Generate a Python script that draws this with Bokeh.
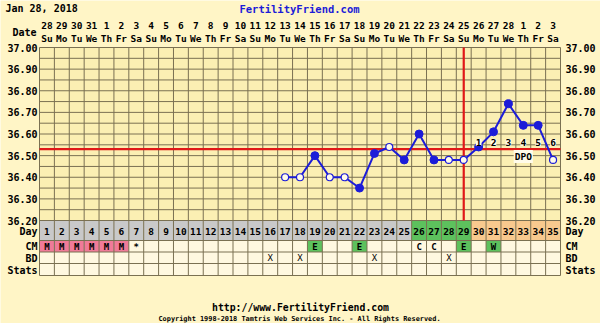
from bokeh.plotting import figure
from bokeh.models import Range1d
from bokeh.core.properties import value
from bokeh.embed import file_html
from bokeh.resources import INLINE

# ---------------- data ----------------
cycle_days = list(range(1, 36))
date_labels = ["28", "29", "30", "31", "1", "2", "3", "4", "5", "6", "7", "8", "9", "10",
               "11", "12", "13", "14", "15", "16", "17", "18", "19", "20", "21", "22", "23",
               "24", "25", "26", "27", "28", "1", "2", "3"]
weekday_labels = ["Su", "Mo", "Tu", "We", "Th", "Fr", "Sa",
                  "Su", "Mo", "Tu", "We", "Th", "Fr", "Sa",
                  "Su", "Mo", "Tu", "We", "Th", "Fr", "Sa",
                  "Su", "Mo", "Tu", "We", "Th", "Fr", "Sa",
                  "Su", "Mo", "Tu", "We", "Th", "Fr", "Sa"]

temp_days = [17, 18, 19, 20, 21, 22, 23, 24, 25, 26, 27, 28, 29, 30, 31, 32, 33, 34, 35]
temps = [36.40, 36.40, 36.50, 36.40, 36.40, 36.35, 36.51, 36.54, 36.48, 36.60,
         36.48, 36.48, 36.48, 36.54, 36.61, 36.74, 36.64, 36.64, 36.48]
temp_open = [True, True, False, True, True, False, False, True, False, False,
             False, True, True, False, False, False, False, False, True]

coverline_temp = 36.53
ovulation_day = 29
dpo_days = [30, 31, 32, 33, 34, 35]
dpo_labels = ["1", "2", "3", "4", "5", "6"]

pre_days = list(range(1, 26))
fertile_days = [26, 27, 28, 29]
post_days = [30, 31, 32, 33, 34, 35]

cm_days = [1, 2, 3, 4, 5, 6, 7, 19, 22, 26, 27, 29, 31]
cm_codes = ["M", "M", "M", "M", "M", "M", "*", "E", "E", "C", "C", "E", "W"]
bd_days = [16, 18, 23, 28]

temp_ticks = [36.20, 36.30, 36.40, 36.50, 36.60, 36.70, 36.80, 36.90, 37.00]
temp_tick_labels = ["36.20", "36.30", "36.40", "36.50", "36.60", "36.70", "36.80", "36.90", "37.00"]
row_names = ["Day", "CM", "BD", "Stats"]

# ---------------- layout helpers (pixel -> data) ----------------
W, H = 600, 323
GX0, GX1 = 39.0, 560.0
COLW = (GX1 - GX0) / 35.0
TOP_PX, BOT_PX = 47.0, 220.0
PXPERDEG = (BOT_PX - TOP_PX) / 0.8


def ty(px):
    return 37.0 - (px - TOP_PX) / PXPERDEG


def dx(px):
    return 0.5 + (px - GX0) / COLW


FONT = value("DejaVu Sans Mono")
BG = "#FFF5C6"
GRIDBG = "#FBEFB3"
CREAM = "#FFF8E0"
LINEC = "#7A7052"
BLUE = "#1C1CD8"
RED = "#E01818"

p = figure(width=W, height=H, output_backend="svg", toolbar_location=None,
           x_range=Range1d(dx(0), dx(W)), y_range=Range1d(ty(H), ty(0)),
           min_border=0, background_fill_color=BG, border_fill_color=BG,
           outline_line_color=None)
p.axis.visible = False
p.grid.visible = False

# row boundaries (pixels)
day_top, day_bot = ty(220), ty(240)
cm_top, cm_bot = ty(240), ty(251.5)
bd_top, bd_bot = ty(251.5), ty(263)
st_top, st_bot = ty(263), ty(275)

# temperature grid background
p.quad(left=[0.5], right=[35.5], bottom=[36.2], top=[37.0], fill_color=GRIDBG, line_color=None)
# cream rows
p.quad(left=[0.5], right=[35.5], bottom=[st_bot], top=[cm_top], fill_color=CREAM, line_color=None)

# day row cells
day_colors = {}
for d in pre_days:
    day_colors[d] = "#C9C9C9"
for d in fertile_days:
    day_colors[d] = "#5DC15D"
for d in post_days:
    day_colors[d] = "#F8C98E"
p.quad(left=[d - 0.5 for d in cycle_days], right=[d + 0.5 for d in cycle_days],
       bottom=day_bot, top=day_top, fill_color=[day_colors[d] for d in cycle_days], line_color=None)

# CM coloured cells
cm_color_map = {"M": "#F07A98", "E": "#5DC15D", "W": "#5DC15D"}
cm_fill_days = [d for d, c in zip(cm_days, cm_codes) if c in cm_color_map]
cm_fill_cols = [cm_color_map[c] for c in cm_codes if c in cm_color_map]
p.quad(left=[d - 0.5 for d in cm_fill_days], right=[d + 0.5 for d in cm_fill_days],
       bottom=cm_bot, top=cm_top, fill_color=cm_fill_cols, line_color=None)

# grid lines
hlines = [36.20 + 0.05 * i for i in range(17)] + [day_bot, cm_bot, bd_bot, st_bot]
p.segment(x0=[0.5] * len(hlines), x1=[35.5] * len(hlines), y0=hlines, y1=hlines,
          line_color=LINEC, line_width=1)
vlines = [0.5 + i for i in range(36)]
p.segment(x0=vlines, x1=vlines, y0=[st_bot] * len(vlines), y1=[37.0] * len(vlines),
          line_color=LINEC, line_width=1)

# coverline and ovulation line
p.segment(x0=[0.5], x1=[35.5], y0=[coverline_temp], y1=[coverline_temp], line_color=RED, line_width=2.2)
p.segment(x0=[ovulation_day], x1=[ovulation_day], y0=[36.2], y1=[37.0], line_color=RED, line_width=2.2)

# temperature line
p.line(temp_days, temps, line_color=BLUE, line_width=2)
fd = [d for d, o in zip(temp_days, temp_open) if not o]
ft = [t for t, o in zip(temps, temp_open) if not o]
od = [d for d, o in zip(temp_days, temp_open) if o]
ot = [t for t, o in zip(temps, temp_open) if o]
p.scatter(fd, ft, size=8, fill_color=BLUE, line_color=BLUE)
p.scatter(od, ot, size=7, fill_color="#FFFBEA", line_color=BLUE, line_width=1.2)

# DPO labels
p.text(x=dpo_days, y=[ty(142)] * len(dpo_days), text=dpo_labels, text_font=FONT,
       text_font_style="bold", text_font_size="9.5px", text_align="center", text_baseline="middle",
       text_color="black", background_fill_color="#FFFBEA", padding=0)
p.text(x=[33], y=[ty(156)], text=["DPO"], text_font=FONT, text_font_style="bold",
       text_font_size="9.5px", text_align="center", text_baseline="middle", text_color="black",
       background_fill_color="#FFFBEA", padding=1)

common = dict(text_font=FONT, text_font_style="bold", text_baseline="middle", text_color="black")

# day numbers / header
p.text(x=cycle_days, y=[ty(230.5)] * 35, text=[str(d) for d in cycle_days],
       text_font_size="9.5px", text_align="center", **common)
p.text(x=cycle_days, y=[ty(25)] * 35, text=date_labels, text_font_size="9.5px", text_align="center", **common)
p.text(x=cycle_days, y=[ty(37.5)] * 35, text=weekday_labels, text_font_size="9.5px", text_align="center", **common)
p.text(x=[dx(36)], y=[ty(32)], text=["Date"], text_font_size="10px", text_align="right", **common)

# CM codes and BD marks
p.text(x=cm_days, y=[ty(246)] * len(cm_days), text=cm_codes, text_font_size="9px",
       text_align="center", **common)
p.text(x=bd_days, y=[ty(257.5)] * len(bd_days), text=["X"] * len(bd_days), text_font_size="9px",
       text_align="center", text_font=FONT, text_baseline="middle", text_color="black")

# temperature tick labels (both sides)
p.text(x=[dx(37)] * 9, y=temp_ticks, text=temp_tick_labels, text_font_size="10px",
       text_align="right", **common)
p.text(x=[dx(565)] * 9, y=temp_ticks, text=temp_tick_labels, text_font_size="10px",
       text_align="left", **common)
row_y = [ty(230.5), ty(246), ty(257.5), ty(269.5)]
p.text(x=[dx(37)] * 4, y=row_y, text=row_names, text_font_size="10px", text_align="right", **common)
p.text(x=[dx(565)] * 4, y=row_y, text=row_names, text_font_size="10px", text_align="left", **common)

# titles and footer
p.text(x=[dx(5)], y=[ty(8)], text=["Jan 28, 2018"], text_font_size="10px", text_align="left", **common)
p.text(x=[dx(299)], y=[ty(8)], text=["FertilityFriend.com"], text_font=FONT, text_font_style="bold",
       text_baseline="middle", text_color=BLUE, text_font_size="10.5px", text_align="center")
p.text(x=[dx(300)], y=[ty(306.5)], text=["http://www.FertilityFriend.com"], text_font_size="9.8px",
       text_align="center", **common)
p.text(x=[dx(299)], y=[ty(318.5)], text=["Copyright 1998-2018 Tamtris Web Services Inc. - All Rights Reserved."],
       text_font_size="6.9px", text_align="center", **common)

open("out.html", "w").write(file_html(p, INLINE, title="FertilityFriend chart"))
